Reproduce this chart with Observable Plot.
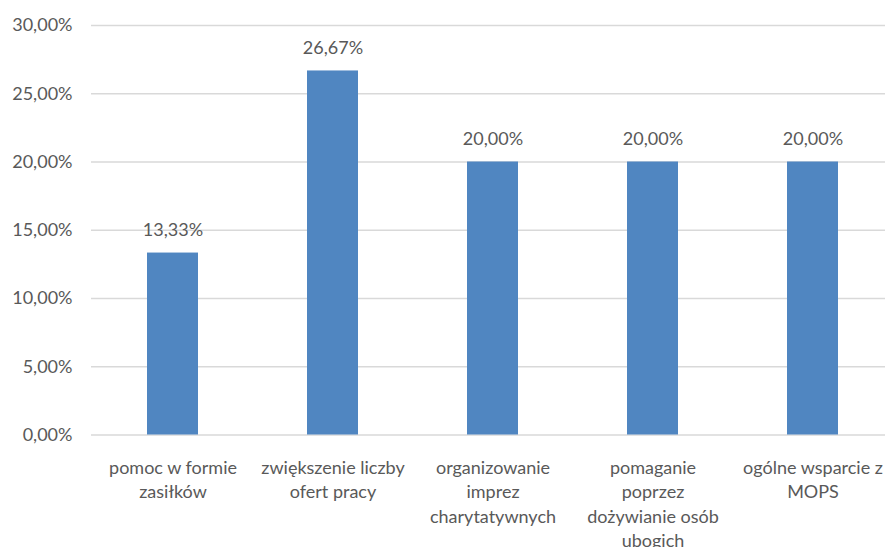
<!DOCTYPE html>
<html>
<head>
<meta charset="utf-8">
<script src="https://cdn.jsdelivr.net/npm/d3@7"></script>
<script src="https://cdn.jsdelivr.net/npm/@observablehq/plot@0.6"></script>
<style>
  html, body { margin: 0; padding: 0; background: #fff; overflow: hidden; }
  #chart svg { max-width: none; }
</style>
</head>
<body>
<div id="chart"></div>
<script>
const categories = [
  "pomoc w formie\nzasiłków",
  "zwiększenie liczby\nofert pracy",
  "organizowanie\nimprez\ncharytatywnych",
  "pomaganie\npoprzez\ndożywianie osób\nubogich",
  "ogólne wsparcie z\nMOPS"
];
const values = [13.33, 26.67, 20.00, 20.00, 20.00];
const yTicks = [0, 5, 10, 15, 20, 25, 30];

const data = categories.map((c, i) => ({category: c, value: values[i]}));
const fmt = v => v.toFixed(2).replace(".", ",") + "%";
const textColor = "#595959";
const font = "Lato, 'Open Sans', sans-serif";

const chart = Plot.plot({
  width: 885,
  height: 547,
  marginLeft: 91,
  marginRight: -8.5,
  marginTop: 25,
  marginBottom: 112.5,
  style: {fontFamily: font, fontSize: "18px", color: textColor, background: "#fff", overflow: "hidden"},
  x: {domain: categories, paddingInner: 0.68, paddingOuter: 0.34, label: null},
  y: {domain: [0, 30], ticks: yTicks, label: null},
  marks: [
    Plot.ruleY(yTicks, {stroke: "#d9d9d9", strokeWidth: 1.3}),
    Plot.barY(data, {x: "category", y: "value", fill: "#5086c1"}),
    Plot.text(data, {x: "category", y: "value", text: d => fmt(d.value), dy: -23, lineAnchor: "middle", fill: textColor, fontSize: 18}),
    Plot.axisY({ticks: yTicks, tickSize: 0, tickPadding: 19, tickFormat: fmt, fill: textColor, fontSize: 18, label: null}),
    Plot.axisX({tickSize: 0, tickPadding: 21, lineHeight: 1.37, fill: textColor, fontSize: 18, label: null, textOverflow: null})
  ]
});
document.getElementById("chart").appendChild(chart);
</script>
</body>
</html>
